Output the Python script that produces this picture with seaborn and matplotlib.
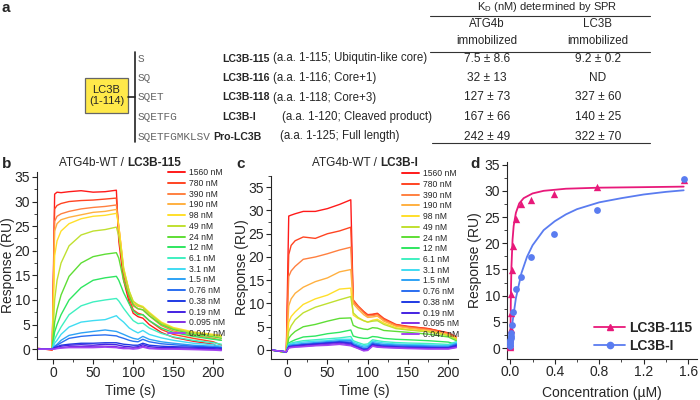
# SPR kinetics figure: LC3B constructs, sensorgrams and steady-state binding
import seaborn as sns
import matplotlib.pyplot as plt
import pandas as pd
import numpy as np
from matplotlib.lines import Line2D
from matplotlib.patches import Rectangle
from matplotlib.ticker import AutoMinorLocator, FormatStrFormatter

sns.set_style("ticks")
plt.rcParams['font.family'] = ['Liberation Sans', 'DejaVu Sans']
plt.rcParams['mathtext.fontset'] = 'custom'
plt.rcParams['mathtext.rm'] = 'Liberation Sans'

# ---------------- panel a: constructs table ----------------
seqs = ["S", "SQ", "SQET", "SQETFG", "SQETFGMKLSV"]
names = ["LC3B-115", "LC3B-116", "LC3B-118", "LC3B-I", "Pro-LC3B"]
descs = ["(a.a. 1-115; Ubiqutin-like core)", "(a.a. 1-116; Core+1)",
         "(a.a. 1-118; Core+3)", "(a.a. 1-120; Cleaved product)",
         "(a.a. 1-125; Full length)"]
kd_atg4b = ["7.5 ± 8.6", "32 ± 13", "127 ± 73", "167 ± 66", "242 ± 49"]
kd_lc3b = ["9.2 ± 0.2", "ND", "327 ± 60", "140 ± 25", "322 ± 70"]

# ---------------- panels b, c: sensorgrams ----------------
conc_labels = ["1560 nM", "780 nM", "390 nM", "190 nM", "98 nM", "49 nM",
               "24 nM", "12 nM", "6.1 nM", "3.1 nM", "1.5 nM", "0.76 nM",
               "0.38 nM", "0.19 nM", "0.095 nM", "0.047 nM"]
trace_colors = ["#ff1a1a", "#ff4422", "#ff8040", "#ffb040", "#ffdf2a", "#c0e030",
                "#5ede35", "#2fe660", "#3ff0c0", "#40dcf2", "#2ea2f5", "#2a6ef0",
                "#1f3ae4", "#4422e2", "#8030e4", "#a444f2"]
time_s = [-20, -1, 2, 5, 10, 20, 35, 50, 65, 79, 82, 88, 95, 100, 106, 112,
          120, 135, 150, 175, 200, 210]

resp_115 = [
    [0.2, -0.2, 31.5, 31.9, 31.8, 32.0, 32.2, 31.9, 32.0, 32.3, 22.0, 14.0, 9.5, 7.3, 6.6, 6.3, 5.0, 3.4, 2.4, 1.6, 1.0, 0.0],
    [0.1, -0.1, 28.5, 29.2, 29.6, 30.0, 30.2, 30.3, 30.5, 30.7, 24.0, 15.0, 10.3, 8.0, 7.3, 7.0, 5.8, 4.0, 3.0, 2.2, 1.5, 0.8],
    [0.1, 0.0, 26.0, 27.0, 27.5, 28.0, 28.5, 28.8, 29.0, 29.3, 25.0, 16.0, 11.0, 8.8, 8.2, 8.0, 6.8, 4.8, 3.7, 2.8, 2.2, 1.8],
    [0.0, 0.0, 24.0, 25.5, 26.3, 26.8, 27.3, 27.8, 28.0, 28.4, 25.0, 16.5, 11.5, 9.3, 8.7, 8.5, 7.2, 5.3, 4.2, 3.3, 2.8, 2.5],
    [0.0, 0.0, 19.0, 22.0, 24.0, 25.5, 26.5, 27.0, 27.2, 27.6, 25.0, 16.5, 11.8, 9.7, 9.0, 8.7, 7.5, 5.5, 4.4, 3.5, 3.0, 2.8],
    [0.0, 0.0, 10.0, 14.0, 17.5, 21.0, 23.2, 24.0, 24.3, 24.8, 23.0, 16.0, 11.8, 9.7, 9.0, 8.5, 7.3, 5.3, 4.2, 3.3, 2.8, 2.5],
    [0.0, 0.0, 5.5, 8.0, 11.0, 14.8, 17.5, 18.8, 19.3, 19.6, 18.5, 14.0, 10.8, 9.0, 8.2, 8.0, 6.8, 5.0, 4.0, 3.0, 2.5, 2.2],
    [0.0, 0.0, 3.5, 5.0, 7.0, 10.0, 12.5, 14.0, 14.5, 14.8, 14.0, 11.5, 9.2, 7.8, 7.0, 7.0, 5.8, 4.3, 3.4, 2.6, 2.0, 1.8],
    [0.0, 0.0, 2.0, 3.0, 4.5, 7.0, 8.8, 9.6, 10.0, 10.3, 9.8, 8.3, 6.8, 5.8, 5.2, 5.3, 4.3, 3.2, 2.5, 1.8, 1.3, 1.0],
    [0.0, 0.0, 1.2, 1.8, 3.0, 4.5, 5.5, 5.8, 6.0, 6.8, 6.3, 5.5, 4.3, 3.8, 3.3, 3.8, 3.0, 2.3, 1.8, 1.2, 0.9, 0.6],
    [0.0, 0.0, 0.6, 1.0, 1.8, 2.8, 3.3, 3.6, 3.9, 3.6, 3.4, 3.0, 2.5, 2.2, 2.0, 2.6, 2.0, 1.5, 1.2, 0.8, 0.6, 0.4],
    [0.0, 0.0, 0.5, 0.8, 1.3, 2.2, 2.6, 2.8, 2.9, 2.7, 2.5, 2.2, 1.8, 1.6, 1.5, 2.0, 1.5, 1.1, 0.9, 0.6, 0.4, 0.3],
    [0.0, 0.0, 0.3, 0.5, 0.8, 1.0, 1.2, 1.2, 1.3, 1.3, 1.2, 1.0, 0.9, 0.8, 0.8, 1.2, 0.8, 0.6, 0.5, 0.4, 0.3, 0.2],
    [0.0, 0.0, 0.2, 0.4, 0.6, 0.8, 0.9, 0.8, 1.0, 0.9, 0.8, 0.6, 0.5, 0.4, 0.5, 0.9, 0.5, 0.3, 0.3, 0.2, 0.1, 0.0],
    [0.0, 0.0, 0.1, 0.2, 0.3, 0.5, 0.5, 0.6, 0.6, 0.5, 0.4, 0.3, 0.2, 0.2, 0.3, 0.6, 0.2, 0.1, 0.1, 0.0, -0.1, -0.2],
    [0.0, 0.0, 0.0, 0.1, 0.2, 0.3, 0.3, 0.3, 0.4, 0.3, 0.2, 0.1, 0.1, 0.0, 0.1, 0.4, 0.1, 0.0, 0.0, -0.1, -0.2, -0.3],
]

resp_i = [
    [0.0, -0.5, 28.8, 29.0, 29.3, 29.8, 29.8, 30.4, 31.3, 32.3, 10.5, 9.3, 8.2, 7.5, 7.6, 7.8, 6.6, 5.4, 5.0, 4.6, 3.6, 2.5],
    [0.0, -0.5, 20.5, 22.5, 23.5, 24.3, 24.0, 25.0, 25.6, 26.4, 10.8, 9.5, 8.3, 7.6, 7.7, 7.9, 6.8, 5.5, 5.1, 4.6, 3.7, 2.8],
    [0.0, -0.5, 15.8, 17.0, 18.0, 19.5, 20.0, 20.7, 21.5, 22.1, 10.5, 9.3, 8.0, 7.3, 7.4, 7.6, 6.5, 5.3, 4.9, 4.4, 3.5, 2.6],
    [0.0, -0.5, 9.5, 11.0, 12.2, 13.5, 14.7, 15.5, 16.8, 17.3, 10.0, 8.8, 7.6, 7.0, 7.1, 7.3, 6.2, 5.1, 4.7, 4.2, 3.3, 2.5],
    [0.0, -0.5, 6.0, 7.2, 8.2, 9.8, 11.0, 11.8, 13.1, 13.3, 7.5, 6.8, 6.3, 6.0, 6.4, 6.6, 5.8, 4.8, 4.4, 4.0, 3.2, 2.4],
    [0.0, -0.5, 4.0, 5.2, 6.5, 8.0, 9.2, 10.0, 10.8, 11.5, 8.0, 7.0, 6.3, 6.0, 6.2, 6.3, 5.5, 4.6, 4.3, 3.9, 3.1, 2.3],
    [0.0, -0.5, 2.5, 3.2, 4.0, 5.0, 5.5, 6.2, 6.8, 6.9, 5.3, 4.8, 4.5, 4.4, 4.8, 4.7, 4.2, 4.0, 3.8, 3.4, 2.8, 2.0],
    [0.0, -0.5, 1.5, 1.8, 2.2, 2.8, 3.0, 3.5, 3.8, 4.3, 3.0, 2.7, 2.5, 2.5, 2.9, 2.8, 2.5, 2.3, 2.2, 2.0, 1.7, 1.2],
    [0.0, -0.4, 1.3, 1.5, 1.7, 2.0, 2.2, 2.4, 2.6, 2.9, 2.0, 1.6, 1.2, 1.3, 2.2, 2.0, 1.8, 1.6, 1.5, 1.4, 1.2, 1.8],
    [0.0, -0.4, 1.2, 1.3, 1.5, 1.7, 1.9, 2.0, 2.3, 2.3, 1.7, 1.3, 0.9, 1.0, 1.9, 1.7, 1.5, 1.3, 1.2, 1.1, 1.0, 1.6],
    [0.0, -0.4, 1.0, 1.1, 1.2, 1.4, 1.6, 1.8, 2.0, 2.0, 1.4, 1.0, 0.6, 0.7, 1.6, 1.4, 1.2, 1.1, 1.0, 0.9, 0.8, 1.4],
    [0.0, -0.4, 0.8, 0.9, 1.0, 1.2, 1.4, 1.6, 1.8, 1.7, 1.2, 0.8, 0.3, 0.4, 1.4, 1.2, 1.0, 0.9, 0.8, 0.7, 0.6, 1.2],
    [0.0, -0.4, 0.7, 0.8, 0.9, 1.1, 1.3, 1.5, 1.7, 1.5, 1.0, 0.6, 0.1, 0.2, 1.2, 1.0, 0.8, 0.7, 0.6, 0.5, 0.5, 1.0],
    [0.0, -0.4, 0.6, 0.7, 0.8, 1.0, 1.2, 1.4, 1.6, 1.3, 0.9, 0.5, 0.0, 0.1, 1.0, 0.9, 0.7, 0.6, 0.5, 0.4, 0.4, 0.8],
    [0.0, -0.4, 0.5, 0.6, 0.7, 0.8, 1.0, 1.2, 1.4, 1.1, 0.8, 0.4, -0.1, 0.0, 0.9, 0.7, 0.6, 0.5, 0.4, 0.3, 0.3, 0.6],
    [0.0, -0.4, 0.4, 0.5, 0.6, 0.7, 0.9, 1.0, 1.2, 0.9, 0.7, 0.3, -0.2, -0.1, 0.8, 0.6, 0.5, 0.4, 0.3, 0.2, 0.2, 0.5],
]

# ---------------- panel d: steady-state responses ----------------
conc_uM = [1.56, 0.78, 0.39, 0.19, 0.098, 0.049, 0.024, 0.012, 0.0061, 0.0031,
           0.0015, 0.00076, 0.00038, 0.00019, 0.000095, 0.000047]
ss_115 = [32.0, 30.7, 29.3, 28.3, 27.4, 24.7, 19.4, 14.8, 10.3, 6.6, 3.7, 2.0, 1.0, 0.6, 0.3, 0.1]
ss_i = [32.3, 26.4, 21.8, 17.3, 13.5, 11.2, 6.8, 4.3, 2.8, 2.2, 1.9, 1.5, 1.2, 0.9, 0.6, 0.4]
# fitted curves
fit_x_115 = [0, 0.005, 0.01, 0.02, 0.03, 0.05, 0.08, 0.12, 0.2, 0.3, 0.5, 0.8, 1.2, 1.56]
fit_y_115 = [0, 10.3, 15.5, 20.7, 23.3, 25.8, 27.6, 28.6, 29.5, 30.0, 30.4, 30.6, 30.7, 30.8]
fit_x_i = [0, 0.01, 0.02, 0.05, 0.1, 0.15, 0.2, 0.3, 0.4, 0.5, 0.6, 0.8, 1.0, 1.2, 1.4, 1.56]
fit_y_i = [0, 2.7, 5.0, 9.5, 14.3, 17.4, 19.6, 22.5, 24.2, 25.5, 26.5, 27.8, 28.6, 29.3, 29.8, 30.1]

pink = "#e8197a"
blue = "#5a7cf0"

W, H = 700, 400
fig = plt.figure(figsize=(7, 4), dpi=100)


def rect(l, t, r, b):
    return [l / W, 1 - b / H, (r - l) / W, (b - t) / H]


def style_axes(ax):
    sns.despine(ax=ax)
    for s in ["left", "bottom"]:
        ax.spines[s].set_linewidth(0.8)
    ax.tick_params(which="major", direction="out", length=3.5, width=0.8, labelsize=10, pad=1.5)
    ax.tick_params(which="minor", direction="out", length=2, width=0.6)
    ax.xaxis.set_minor_locator(AutoMinorLocator(2))
    ax.yaxis.set_minor_locator(AutoMinorLocator(2))


# ---------- panel a ----------
ax_a = fig.add_axes([0, 1 - 150 / H, 1, 150 / H])
ax_a.set_xlim(0, W)
ax_a.set_ylim(150, 0)
ax_a.axis("off")
row_y = [58.5, 78, 97.5, 117, 136.5]
ax_a.add_patch(Rectangle((85, 78), 43, 35, facecolor="#ffe94a", edgecolor="#666666", lw=0.9))
ax_a.text(106.5, 95.5, "LC3B\n(1-114)", ha="center", va="center", fontsize=8, linespacing=1.1)
ax_a.plot([128, 135], [97, 97], color="#222222", lw=1.2)
ax_a.plot([135, 135], [52, 142], color="#222222", lw=1.2)
name_x = [222, 222, 222, 222, 213]
desc_x = [273, 273, 273, 282, 280]
for i in range(5):
    ax_a.text(138, row_y[i], seqs[i], family="Liberation Mono", color="#666666",
              fontsize=8, va="center")
    ax_a.text(name_x[i], row_y[i], names[i], fontweight="bold", fontsize=7.6, va="center")
    ax_a.text(desc_x[i], row_y[i], descs[i], fontsize=8.3, va="center")
    ax_a.text(487, row_y[i], kd_atg4b[i], fontsize=8.6, ha="center", va="center")
    ax_a.text(598, row_y[i], kd_lc3b[i], fontsize=8.6, ha="center", va="center")
ax_a.text(547, 7.5, r"K$_{\mathrm{D}}$ (nM) determined by SPR", fontsize=8, ha="center", va="center")
ax_a.plot([430, 650], [15.5, 15.5], color="#333333", lw=0.8)
ax_a.text(487, 32.5, "ATG4b\nimmobilized", fontsize=8.3, ha="center", va="center", linespacing=1.5)
ax_a.text(598, 32.5, "LC3B\nimmobilized", fontsize=8.3, ha="center", va="center", linespacing=1.5)
ax_a.plot([430, 650], [51.5, 51.5], color="#333333", lw=0.8)
ax_a.plot([432, 650], [143, 143], color="#333333", lw=0.8)


# ---------- panels b and c ----------
def sensorgram(ax, resp, ylim, leg_anchor, ylab_x):
    rows = []
    for lab, vals in zip(conc_labels, resp):
        for t, v in zip(time_s, vals):
            rows.append({"Time": t, "Response": v, "Conc": lab})
    df = pd.DataFrame(rows)
    sns.lineplot(data=df, x="Time", y="Response", hue="Conc", hue_order=conc_labels,
                 palette=trace_colors, estimator=None, lw=1.0, ax=ax)
    ax.set_xlim(-20, 212)
    ax.set_ylim(*ylim)
    ax.set_xticks([0, 50, 100, 150, 200])
    ax.set_yticks(range(0, 36, 5))
    style_axes(ax)
    ax.set_xlabel("Time (s)", fontsize=10, labelpad=3)
    ax.set_ylabel("Response (RU)", fontsize=10)
    ax.yaxis.set_label_coords(ylab_x, 0.5)
    h, l = ax.get_legend_handles_labels()
    leg = ax.legend(h, l, loc="upper left", bbox_to_anchor=leg_anchor, frameon=False,
                    fontsize=6.2, handlelength=2.0, handletextpad=0.4, labelspacing=0.2,
                    borderpad=0, borderaxespad=0)
    for ln in leg.get_lines():
        ln.set_linewidth(1.4)


ax_b = fig.add_axes(rect(37, 172, 223, 359))
sensorgram(ax_b, resp_115, (-2, 36), (0.704, 1.02), -0.118)
ax_c = fig.add_axes(rect(271, 175.6, 458, 359.3))
sensorgram(ax_c, resp_i, (-2, 37.5), (0.70, 1.035), -0.118)

# ---------- panel d ----------
ax_d = fig.add_axes(rect(507, 162, 697, 358.5))
sns.lineplot(x=fit_x_115, y=fit_y_115, color=pink, lw=1.3, ax=ax_d)
sns.lineplot(x=fit_x_i, y=fit_y_i, color=blue, lw=1.3, ax=ax_d)
sns.scatterplot(x=conc_uM, y=ss_115, marker="^", color=pink, s=28, linewidth=0, ax=ax_d, zorder=3)
sns.scatterplot(x=conc_uM, y=ss_i, marker="o", color=blue, s=24, linewidth=0, ax=ax_d, zorder=3)
ax_d.set_xlim(-0.03, 1.68)
ax_d.set_ylim(-2, 35.5)
ax_d.set_xticks([0, 0.4, 0.8, 1.2, 1.6])
ax_d.xaxis.set_major_formatter(FormatStrFormatter("%.1f"))
ax_d.set_yticks(range(0, 36, 5))
style_axes(ax_d)
ax_d.set_xlabel("Concentration (µM)", fontsize=10, labelpad=5)
ax_d.set_ylabel("Response (RU)", fontsize=10, labelpad=2)
handles = [Line2D([], [], color=pink, marker="^", ms=5, lw=1.3),
           Line2D([], [], color=blue, marker="o", ms=4.5, lw=1.3)]
leg = ax_d.legend(handles, ["LC3B-115", "LC3B-I"], loc="upper left",
                  bbox_to_anchor=(0.46, 0.19), frameon=False, handlelength=2.2,
                  handletextpad=0.3, labelspacing=0.25, borderpad=0, borderaxespad=0,
                  prop={"weight": "bold", "size": 10})

# ---------- titles and panel letters ----------
renderer = fig.canvas.get_renderer()


def mixed_title(xc, y, normal, bold, size=8.5):
    t1 = fig.text(0, 1 - y / H, normal, fontsize=size, va="center")
    t2 = fig.text(0, 1 - y / H, bold, fontsize=size, fontweight="bold", va="center")
    w1 = t1.get_window_extent(renderer).width
    w2 = t2.get_window_extent(renderer).width
    gap = 3
    x0 = xc - (w1 + gap + w2) / 2
    t1.set_x(x0 / W)
    t2.set_x((x0 + w1 + gap) / W)


mixed_title(120, 163, "ATG4b-WT /", "LC3B-115")
mixed_title(365, 163, "ATG4b-WT /", "LC3B-I")

for letter, (px, py) in zip("abcd", [(1, 8), (2, 164), (236, 164), (470, 164)]):
    fig.text(px / W, 1 - py / H, letter, fontsize=11, fontweight="bold", va="center")

fig.savefig("out.png", dpi=100)
plt.close(fig)
